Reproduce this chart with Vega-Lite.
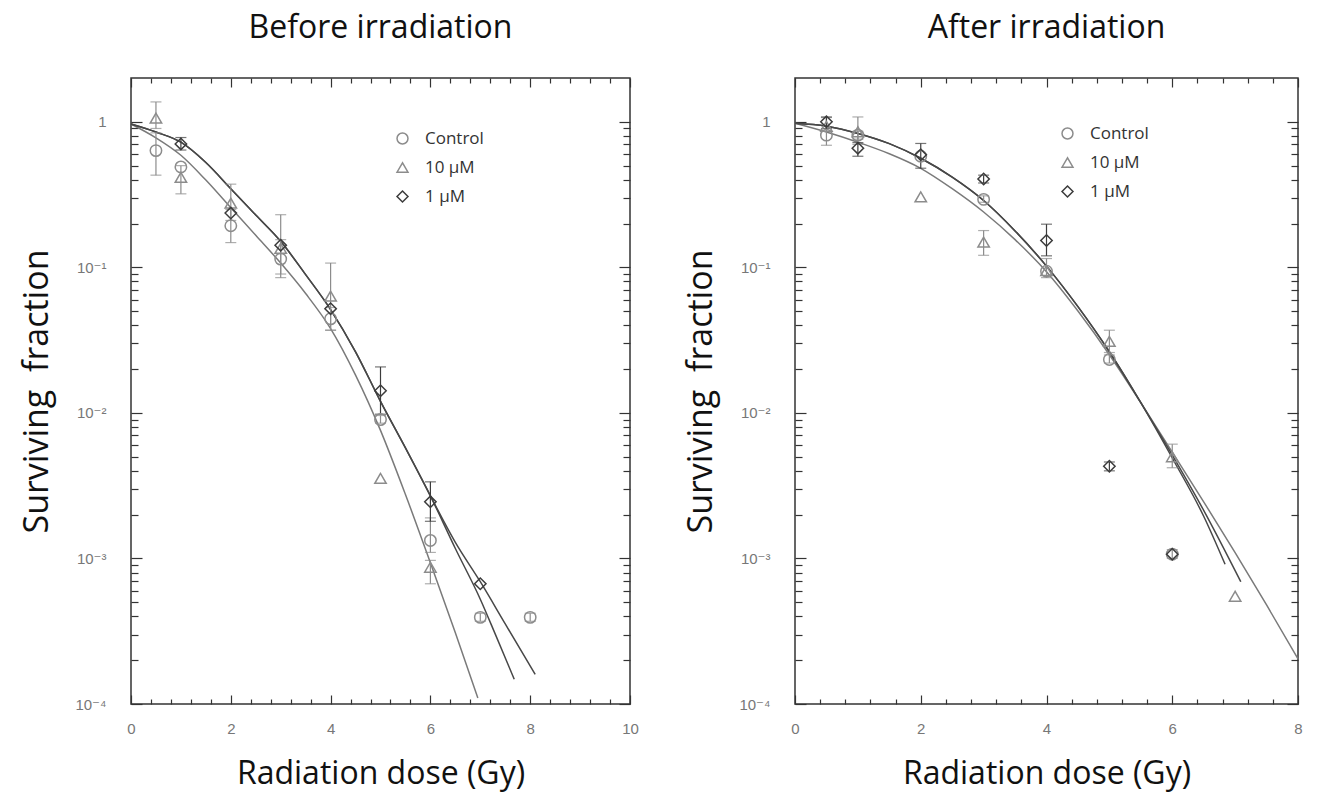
{
  "$schema": "https://vega.github.io/schema/vega-lite/v6.json",
  "background": "white",
  "padding": {"left": 20, "top": 11, "right": 5, "bottom": 2},
  "spacing": 44,
  "config": {
    "view": {"stroke": "#333", "strokeWidth": 1.5},
    "axis": {"labelFont": "Liberation Sans, DejaVu Sans", "labelColor": "#777", "labelFontSize": 15, "tickColor": "#333", "tickWidth": 1.2, "domain": false, "grid": false, "titleFont": "Open Sans", "titleFontWeight": "normal", "titleColor": "#111", "labelOverlap": false, "labelFlush": false},
    "title": {"font": "Open Sans", "fontSize": 32, "fontWeight": "normal", "color": "#111", "anchor": "middle", "offset": 32},
    "legend": {"labelFont": "Open Sans", "labelFontSize": 17, "labelColor": "#333", "symbolSize": 120, "symbolStrokeWidth": 1.5, "rowPadding": 11, "labelOffset": 14}
  },
  "datasets": {
    "curvesL": [
      {"curve": "A", "D": 0, "S": 0.966}, {"curve": "A", "D": 0.5, "S": 0.776}, {"curve": "A", "D": 1, "S": 0.589}, {"curve": "A", "D": 1.5, "S": 0.398}, {"curve": "A", "D": 2, "S": 0.257}, {"curve": "A", "D": 2.5, "S": 0.166}, {"curve": "A", "D": 3, "S": 0.107}, {"curve": "A", "D": 3.5, "S": 0.0661}, {"curve": "A", "D": 4, "S": 0.038}, {"curve": "A", "D": 4.5, "S": 0.0182}, {"curve": "A", "D": 5, "S": 0.00759}, {"curve": "A", "D": 5.5, "S": 0.00275}, {"curve": "A", "D": 6, "S": 0.000933}, {"curve": "A", "D": 6.5, "S": 0.000309}, {"curve": "A", "D": 6.95, "S": 0.00011},
      {"curve": "B", "D": 0, "S": 0.966}, {"curve": "B", "D": 0.5, "S": 0.851}, {"curve": "B", "D": 1, "S": 0.724}, {"curve": "B", "D": 1.5, "S": 0.525}, {"curve": "B", "D": 2, "S": 0.347}, {"curve": "B", "D": 2.5, "S": 0.229}, {"curve": "B", "D": 3, "S": 0.151}, {"curve": "B", "D": 3.5, "S": 0.0891}, {"curve": "B", "D": 4, "S": 0.0513}, {"curve": "B", "D": 4.5, "S": 0.0263}, {"curve": "B", "D": 5, "S": 0.012}, {"curve": "B", "D": 5.5, "S": 0.00575}, {"curve": "B", "D": 6, "S": 0.00269}, {"curve": "B", "D": 6.5, "S": 0.00117}, {"curve": "B", "D": 7, "S": 0.000525}, {"curve": "B", "D": 7.3, "S": 0.000302}, {"curve": "B", "D": 7.68, "S": 0.000148},
      {"curve": "C", "D": 0, "S": 0.966}, {"curve": "C", "D": 0.5, "S": 0.851}, {"curve": "C", "D": 1, "S": 0.724}, {"curve": "C", "D": 1.5, "S": 0.525}, {"curve": "C", "D": 2, "S": 0.347}, {"curve": "C", "D": 2.5, "S": 0.229}, {"curve": "C", "D": 3, "S": 0.151}, {"curve": "C", "D": 3.5, "S": 0.0891}, {"curve": "C", "D": 4, "S": 0.0513}, {"curve": "C", "D": 4.5, "S": 0.0263}, {"curve": "C", "D": 5, "S": 0.012}, {"curve": "C", "D": 5.5, "S": 0.00575}, {"curve": "C", "D": 6, "S": 0.00269}, {"curve": "C", "D": 6.5, "S": 0.00129}, {"curve": "C", "D": 7, "S": 0.000692}, {"curve": "C", "D": 7.5, "S": 0.000355}, {"curve": "C", "D": 8.1, "S": 0.00016}
    ],
    "pointsL": [
      {"series": "Control", "D": 0.5, "S": 0.634, "lo": 0.43, "hi": 0.84},
      {"series": "Control", "D": 1, "S": 0.49},
      {"series": "Control", "D": 2, "S": 0.193, "lo": 0.148, "hi": 0.25},
      {"series": "Control", "D": 3, "S": 0.114, "lo": 0.085, "hi": 0.155},
      {"series": "Control", "D": 4, "S": 0.0443, "lo": 0.037, "hi": 0.053},
      {"series": "Control", "D": 5, "S": 0.009, "lo": 0.0085, "hi": 0.0096},
      {"series": "Control", "D": 6, "S": 0.00133, "lo": 0.0011, "hi": 0.0019},
      {"series": "Control", "D": 7, "S": 0.000394, "lo": 0.00037, "hi": 0.00042},
      {"series": "Control", "D": 8, "S": 0.000394, "lo": 0.00037, "hi": 0.00042},
      {"series": "10 µM", "D": 0.5, "S": 1.06, "lo": 0.9, "hi": 1.37},
      {"series": "10 µM", "D": 1, "S": 0.415, "lo": 0.32, "hi": 0.5},
      {"series": "10 µM", "D": 2, "S": 0.276, "lo": 0.21, "hi": 0.373},
      {"series": "10 µM", "D": 3, "S": 0.135, "lo": 0.09, "hi": 0.23},
      {"series": "10 µM", "D": 4, "S": 0.0634, "lo": 0.037, "hi": 0.107},
      {"series": "10 µM", "D": 5, "S": 0.00355},
      {"series": "10 µM", "D": 6, "S": 0.00087, "lo": 0.00067, "hi": 0.00097},
      {"series": "1 µM", "D": 1, "S": 0.705, "lo": 0.64, "hi": 0.78},
      {"series": "1 µM", "D": 2, "S": 0.236},
      {"series": "1 µM", "D": 3, "S": 0.142},
      {"series": "1 µM", "D": 4, "S": 0.052},
      {"series": "1 µM", "D": 5, "S": 0.0142, "lo": 0.0098, "hi": 0.0207},
      {"series": "1 µM", "D": 6, "S": 0.00245, "lo": 0.0018, "hi": 0.00336},
      {"series": "1 µM", "D": 7, "S": 0.00067}
    ],
    "curvesR": [
      {"curve": "A", "D": 0, "S": 0.977}, {"curve": "A", "D": 0.5, "S": 0.851}, {"curve": "A", "D": 1, "S": 0.724}, {"curve": "A", "D": 1.5, "S": 0.603}, {"curve": "A", "D": 2, "S": 0.479}, {"curve": "A", "D": 2.5, "S": 0.347}, {"curve": "A", "D": 3, "S": 0.24}, {"curve": "A", "D": 3.5, "S": 0.155}, {"curve": "A", "D": 4, "S": 0.0933}, {"curve": "A", "D": 4.5, "S": 0.0501}, {"curve": "A", "D": 5, "S": 0.0251}, {"curve": "A", "D": 5.5, "S": 0.01175}, {"curve": "A", "D": 6, "S": 0.00537}, {"curve": "A", "D": 6.5, "S": 0.00245}, {"curve": "A", "D": 7, "S": 0.001096}, {"curve": "A", "D": 7.5, "S": 0.000479}, {"curve": "A", "D": 8, "S": 0.000204},
      {"curve": "B", "D": 0, "S": 0.977}, {"curve": "B", "D": 0.5, "S": 0.933}, {"curve": "B", "D": 1, "S": 0.832}, {"curve": "B", "D": 1.5, "S": 0.708}, {"curve": "B", "D": 2, "S": 0.562}, {"curve": "B", "D": 2.5, "S": 0.417}, {"curve": "B", "D": 3, "S": 0.288}, {"curve": "B", "D": 3.5, "S": 0.178}, {"curve": "B", "D": 4, "S": 0.102}, {"curve": "B", "D": 4.5, "S": 0.0537}, {"curve": "B", "D": 5, "S": 0.0263}, {"curve": "B", "D": 5.5, "S": 0.01175}, {"curve": "B", "D": 6, "S": 0.0049}, {"curve": "B", "D": 6.5, "S": 0.00195}, {"curve": "B", "D": 6.84, "S": 0.000912},
      {"curve": "C", "D": 0, "S": 0.977}, {"curve": "C", "D": 0.5, "S": 0.933}, {"curve": "C", "D": 1, "S": 0.832}, {"curve": "C", "D": 1.5, "S": 0.708}, {"curve": "C", "D": 2, "S": 0.562}, {"curve": "C", "D": 2.5, "S": 0.417}, {"curve": "C", "D": 3, "S": 0.288}, {"curve": "C", "D": 3.5, "S": 0.178}, {"curve": "C", "D": 4, "S": 0.102}, {"curve": "C", "D": 4.5, "S": 0.0537}, {"curve": "C", "D": 5, "S": 0.0263}, {"curve": "C", "D": 5.5, "S": 0.01175}, {"curve": "C", "D": 6, "S": 0.00513}, {"curve": "C", "D": 6.5, "S": 0.00214}, {"curve": "C", "D": 7.09, "S": 0.000692}
    ],
    "pointsR": [
      {"series": "Control", "D": 0.5, "S": 0.81, "lo": 0.69, "hi": 1.07},
      {"series": "Control", "D": 1, "S": 0.81, "lo": 0.76, "hi": 0.86},
      {"series": "Control", "D": 2, "S": 0.58},
      {"series": "Control", "D": 3, "S": 0.293, "lo": 0.28, "hi": 0.31},
      {"series": "Control", "D": 4, "S": 0.094, "lo": 0.085, "hi": 0.115},
      {"series": "Control", "D": 5, "S": 0.0233, "lo": 0.022, "hi": 0.025},
      {"series": "Control", "D": 6, "S": 0.00107, "lo": 0.001, "hi": 0.00115},
      {"series": "10 µM", "D": 0.5, "S": 0.93},
      {"series": "10 µM", "D": 1, "S": 0.855, "lo": 0.7, "hi": 1.08},
      {"series": "10 µM", "D": 2, "S": 0.305},
      {"series": "10 µM", "D": 3, "S": 0.149, "lo": 0.121, "hi": 0.179},
      {"series": "10 µM", "D": 4, "S": 0.095},
      {"series": "10 µM", "D": 5, "S": 0.031, "lo": 0.026, "hi": 0.037},
      {"series": "10 µM", "D": 6, "S": 0.005, "lo": 0.0042, "hi": 0.0061},
      {"series": "10 µM", "D": 7, "S": 0.00055},
      {"series": "1 µM", "D": 0.5, "S": 1.0, "lo": 0.9, "hi": 1.08},
      {"series": "1 µM", "D": 1, "S": 0.659, "lo": 0.58, "hi": 0.72},
      {"series": "1 µM", "D": 2, "S": 0.593, "lo": 0.48, "hi": 0.71},
      {"series": "1 µM", "D": 3, "S": 0.405, "lo": 0.38, "hi": 0.43},
      {"series": "1 µM", "D": 4, "S": 0.153, "lo": 0.12, "hi": 0.198},
      {"series": "1 µM", "D": 5, "S": 0.0043, "lo": 0.004, "hi": 0.0046},
      {"series": "1 µM", "D": 6, "S": 0.00107}
    ]
  },
  "resolve": {
    "scale": {"x": "independent", "y": "independent", "shape": "independent", "stroke": "independent"},
    "legend": {"shape": "independent", "stroke": "independent"}
  },
  "hconcat": [
    {
      "title": {"text": "Before irradiation"},
      "width": 499,
      "height": 626,
      "resolve": {"axis": {"x": "independent", "y": "independent"}},
      "layer": [
        {
          "data": {"name": "curvesL"},
          "transform": [{"filter": "datum.curve == 'A'"}],
          "mark": {"type": "line", "strokeWidth": 1.5, "interpolate": "monotone", "color": "#7a7a7a"},
          "encoding": {
            "x": {"field": "D", "type": "quantitative", "scale": {"domain": [0, 10], "nice": false, "zero": false},
              "axis": {"orient": "bottom", "values": [0, 2, 4, 6, 8, 10], "format": "d", "tickSize": -9,
                "labelPadding": 26, "title": "Radiation dose (Gy)", "titleFontSize": 32, "titlePadding": 22}},
            "y": {"field": "S", "type": "quantitative", "scale": {"type": "log", "domain": [0.0001, 2], "nice": false},
              "axis": {"orient": "left", "values": [0.0001, 0.001, 0.01, 0.1, 1], "tickSize": -11,
                "labelExpr": "datum.value == 1 ? '1' : datum.value == 0.1 ? '10⁻¹' : datum.value == 0.01 ? '10⁻²' : datum.value == 0.001 ? '10⁻³' : '10⁻⁴'",
                "labelPadding": 36, "title": "Surviving\u00a0 fraction", "titleFontSize": 34, "titlePadding": 20}}
          }
        },
        {
          "data": {"name": "curvesL"},
          "transform": [{"filter": "datum.curve == 'B'"}],
          "mark": {"type": "line", "strokeWidth": 1.5, "interpolate": "monotone", "color": "#484848"},
          "encoding": {
            "x": {"field": "D", "type": "quantitative", "scale": {"domain": [0, 10], "nice": false, "zero": false},
              "axis": {"orient": "bottom", "values": [0.4,0.8,1.2,1.6,2.4,2.8,3.2,3.6,4.4,4.8,5.2,5.6,6.4,6.8,7.2,7.6,8.4,8.8,9.2,9.6], "tickSize": -5, "labels": false, "title": null}},
            "y": {"field": "S", "type": "quantitative", "scale": {"type": "log", "domain": [0.0001, 2], "nice": false},
              "axis": {"orient": "left", "values": [0.0002,0.0003,0.0004,0.0005,0.0006,0.0007,0.0008,0.0009,0.002,0.003,0.004,0.005,0.006,0.007,0.008,0.009,0.02,0.03,0.04,0.05,0.06,0.07,0.08,0.09,0.2,0.3,0.4,0.5,0.6,0.7,0.8,0.9], "tickSize": -7, "labels": false, "title": null}}
          }
        },
        {
          "data": {"name": "curvesL"},
          "transform": [{"filter": "datum.curve == 'C'"}],
          "mark": {"type": "line", "strokeWidth": 1.5, "interpolate": "monotone", "color": "#484848"},
          "encoding": {
            "x": {"field": "D", "type": "quantitative", "scale": {"domain": [0, 10], "nice": false, "zero": false},
              "axis": {"orient": "top", "values": [0.4,0.8,1.2,1.6,2.4,2.8,3.2,3.6,4.4,4.8,5.2,5.6,6.4,6.8,7.2,7.6,8.4,8.8,9.2,9.6], "tickSize": -5, "labels": false, "title": null}},
            "y": {"field": "S", "type": "quantitative", "scale": {"type": "log", "domain": [0.0001, 2], "nice": false},
              "axis": {"orient": "right", "values": [0.0002,0.0003,0.0004,0.0005,0.0006,0.0007,0.0008,0.0009,0.002,0.003,0.004,0.005,0.006,0.007,0.008,0.009,0.02,0.03,0.04,0.05,0.06,0.07,0.08,0.09,0.2,0.3,0.4,0.5,0.6,0.7,0.8,0.9], "tickSize": -7, "labels": false, "title": null}}
          }
        },
        {
          "data": {"name": "pointsL"},
          "transform": [{"filter": "isValid(datum.lo) && datum.series != '1 µM'"}],
          "mark": {"type": "errorbar", "color": "#8c8c8c", "ticks": {"size": 11, "thickness": 1.2}, "thickness": 1.2},
          "encoding": {
            "x": {"field": "D", "type": "quantitative", "scale": {"domain": [0, 10], "nice": false, "zero": false}, "axis": null},
            "y": {"field": "lo", "type": "quantitative", "scale": {"type": "log", "domain": [0.0001, 2], "nice": false}, "axis": null},
            "y2": {"field": "hi"}
          }
        },
        {
          "data": {"name": "pointsL"},
          "transform": [{"filter": "isValid(datum.lo) && datum.series == '1 µM'"}],
          "mark": {"type": "errorbar", "color": "#3c3c3c", "ticks": {"size": 11, "thickness": 1.2}, "thickness": 1.2},
          "encoding": {
            "x": {"field": "D", "type": "quantitative", "scale": {"domain": [0, 10], "nice": false, "zero": false}, "axis": null},
            "y": {"field": "lo", "type": "quantitative", "scale": {"type": "log", "domain": [0.0001, 2], "nice": false}, "axis": null},
            "y2": {"field": "hi"}
          }
        },
        {
          "data": {"name": "pointsL"},
          "mark": {"type": "point", "filled": false, "size": 130, "strokeWidth": 1.5, "opacity": 1},
          "encoding": {
            "x": {"field": "D", "type": "quantitative", "scale": {"domain": [0, 10], "nice": false, "zero": false},
              "axis": {"orient": "top", "values": [0, 2, 4, 6, 8, 10], "tickSize": -9, "labels": false, "title": null}},
            "y": {"field": "S", "type": "quantitative", "scale": {"type": "log", "domain": [0.0001, 2], "nice": false},
              "axis": {"orient": "right", "values": [0.0001, 0.001, 0.01, 0.1, 1], "tickSize": -11, "labels": false, "title": null}},
            "shape": {"field": "series", "type": "nominal", "scale": {"domain": ["Control", "10 µM", "1 µM"], "range": ["circle", "triangle-up", "diamond"]},
              "legend": {"title": null, "orient": "none", "legendX": 263, "legendY": 52}},
            "stroke": {"field": "series", "type": "nominal", "scale": {"domain": ["Control", "10 µM", "1 µM"], "range": ["#8c8c8c", "#8c8c8c", "#3c3c3c"]},
              "legend": {"title": null, "orient": "none", "legendX": 263, "legendY": 52}}
          }
        }
      ]
    },
    {
      "title": {"text": "After irradiation"},
      "width": 503,
      "height": 626,
      "resolve": {"axis": {"x": "independent", "y": "independent"}},
      "layer": [
        {
          "data": {"name": "curvesR"},
          "transform": [{"filter": "datum.curve == 'A'"}],
          "mark": {"type": "line", "strokeWidth": 1.5, "interpolate": "monotone", "color": "#7a7a7a"},
          "encoding": {
            "x": {"field": "D", "type": "quantitative", "scale": {"domain": [0, 8], "nice": false, "zero": false},
              "axis": {"orient": "bottom", "values": [0, 2, 4, 6, 8], "format": "d", "tickSize": -9,
                "labelPadding": 26, "title": "Radiation dose (Gy)", "titleFontSize": 32, "titlePadding": 22}},
            "y": {"field": "S", "type": "quantitative", "scale": {"type": "log", "domain": [0.0001, 2], "nice": false},
              "axis": {"orient": "left", "values": [0.0001, 0.001, 0.01, 0.1, 1], "tickSize": -11,
                "labelExpr": "datum.value == 1 ? '1' : datum.value == 0.1 ? '10⁻¹' : datum.value == 0.01 ? '10⁻²' : datum.value == 0.001 ? '10⁻³' : '10⁻⁴'",
                "labelPadding": 36, "title": "Surviving\u00a0 fraction", "titleFontSize": 34, "titlePadding": 20}}
          }
        },
        {
          "data": {"name": "curvesR"},
          "transform": [{"filter": "datum.curve == 'B'"}],
          "mark": {"type": "line", "strokeWidth": 1.5, "interpolate": "monotone", "color": "#484848"},
          "encoding": {
            "x": {"field": "D", "type": "quantitative", "scale": {"domain": [0, 8], "nice": false, "zero": false},
              "axis": {"orient": "bottom", "values": [0.4,0.8,1.2,1.6,2.4,2.8,3.2,3.6,4.4,4.8,5.2,5.6,6.4,6.8,7.2,7.6], "tickSize": -5, "labels": false, "title": null}},
            "y": {"field": "S", "type": "quantitative", "scale": {"type": "log", "domain": [0.0001, 2], "nice": false},
              "axis": {"orient": "left", "values": [0.0002,0.0003,0.0004,0.0005,0.0006,0.0007,0.0008,0.0009,0.002,0.003,0.004,0.005,0.006,0.007,0.008,0.009,0.02,0.03,0.04,0.05,0.06,0.07,0.08,0.09,0.2,0.3,0.4,0.5,0.6,0.7,0.8,0.9], "tickSize": -7, "labels": false, "title": null}}
          }
        },
        {
          "data": {"name": "curvesR"},
          "transform": [{"filter": "datum.curve == 'C'"}],
          "mark": {"type": "line", "strokeWidth": 1.5, "interpolate": "monotone", "color": "#484848"},
          "encoding": {
            "x": {"field": "D", "type": "quantitative", "scale": {"domain": [0, 8], "nice": false, "zero": false},
              "axis": {"orient": "top", "values": [0.4,0.8,1.2,1.6,2.4,2.8,3.2,3.6,4.4,4.8,5.2,5.6,6.4,6.8,7.2,7.6], "tickSize": -5, "labels": false, "title": null}},
            "y": {"field": "S", "type": "quantitative", "scale": {"type": "log", "domain": [0.0001, 2], "nice": false},
              "axis": {"orient": "right", "values": [0.0002,0.0003,0.0004,0.0005,0.0006,0.0007,0.0008,0.0009,0.002,0.003,0.004,0.005,0.006,0.007,0.008,0.009,0.02,0.03,0.04,0.05,0.06,0.07,0.08,0.09,0.2,0.3,0.4,0.5,0.6,0.7,0.8,0.9], "tickSize": -7, "labels": false, "title": null}}
          }
        },
        {
          "data": {"name": "pointsR"},
          "transform": [{"filter": "isValid(datum.lo) && datum.series != '1 µM'"}],
          "mark": {"type": "errorbar", "color": "#8c8c8c", "ticks": {"size": 11, "thickness": 1.2}, "thickness": 1.2},
          "encoding": {
            "x": {"field": "D", "type": "quantitative", "scale": {"domain": [0, 8], "nice": false, "zero": false}, "axis": null},
            "y": {"field": "lo", "type": "quantitative", "scale": {"type": "log", "domain": [0.0001, 2], "nice": false}, "axis": null},
            "y2": {"field": "hi"}
          }
        },
        {
          "data": {"name": "pointsR"},
          "transform": [{"filter": "isValid(datum.lo) && datum.series == '1 µM'"}],
          "mark": {"type": "errorbar", "color": "#3c3c3c", "ticks": {"size": 11, "thickness": 1.2}, "thickness": 1.2},
          "encoding": {
            "x": {"field": "D", "type": "quantitative", "scale": {"domain": [0, 8], "nice": false, "zero": false}, "axis": null},
            "y": {"field": "lo", "type": "quantitative", "scale": {"type": "log", "domain": [0.0001, 2], "nice": false}, "axis": null},
            "y2": {"field": "hi"}
          }
        },
        {
          "data": {"name": "pointsR"},
          "mark": {"type": "point", "filled": false, "size": 130, "strokeWidth": 1.5, "opacity": 1},
          "encoding": {
            "x": {"field": "D", "type": "quantitative", "scale": {"domain": [0, 8], "nice": false, "zero": false},
              "axis": {"orient": "top", "values": [0, 2, 4, 6, 8], "tickSize": -9, "labels": false, "title": null}},
            "y": {"field": "S", "type": "quantitative", "scale": {"type": "log", "domain": [0.0001, 2], "nice": false},
              "axis": {"orient": "right", "values": [0.0001, 0.001, 0.01, 0.1, 1], "tickSize": -11, "labels": false, "title": null}},
            "shape": {"field": "series", "type": "nominal", "scale": {"domain": ["Control", "10 µM", "1 µM"], "range": ["circle", "triangle-up", "diamond"]},
              "legend": {"title": null, "orient": "none", "legendX": 264, "legendY": 47}},
            "stroke": {"field": "series", "type": "nominal", "scale": {"domain": ["Control", "10 µM", "1 µM"], "range": ["#8c8c8c", "#8c8c8c", "#3c3c3c"]},
              "legend": {"title": null, "orient": "none", "legendX": 264, "legendY": 47}}
          }
        }
      ]
    }
  ]
}
